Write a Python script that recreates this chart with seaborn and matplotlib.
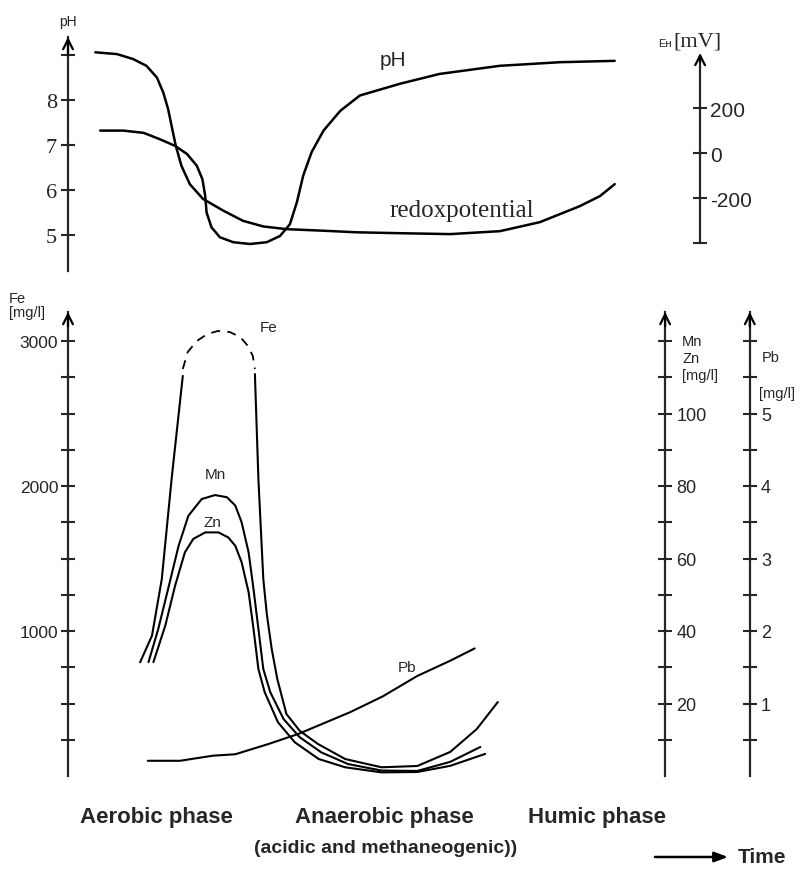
import numpy as np
import pandas as pd
import seaborn as sns
import matplotlib.pyplot as plt

# time in arbitrary units along the landfill life
ph_time = [4.6, 7.9, 10.8, 13.1, 15.3, 17.0, 18.4, 19.2, 19.6, 19.8, 20.5, 21.7, 23.6,
           26.0, 28.4, 30.3, 31.7, 32.7, 33.6, 34.8, 36.5, 38.9, 41.7, 47.4, 53.1,
           61.7, 70.3, 78.1]
ph_value = [7.32, 7.32, 7.27, 7.13, 6.98, 6.80, 6.54, 6.24, 5.87, 5.50, 5.17, 4.95, 4.84,
            4.80, 4.84, 4.98, 5.24, 5.73, 6.32, 6.84, 7.32, 7.76, 8.10, 8.36, 8.58,
            8.76, 8.84, 8.87]

redox_time = [3.9, 7.0, 9.3, 11.2, 12.7, 13.6, 14.3, 14.8, 15.4, 16.2, 17.4, 19.3, 22.2,
              25.0, 27.9, 31.2, 36.5, 41.2, 47.4, 54.6, 61.7, 67.4, 73.1, 76.0, 78.1]
redox_mv = [448, 440, 418, 388, 336, 270, 196, 121, 32, -56, -138, -204, -256,
            -301, -326, -338, -345, -352, -356, -360, -347, -307, -236, -191, -138]

# Fe [mg/l]: rising part, uncertain (dashed) peak, falling part
fe_rise_time = [10.3, 12.0, 13.4, 14.8, 16.4]
fe_rise = [784, 968, 1359, 2048, 2759]
fe_peak_time = [16.4, 17.1, 18.4, 19.9, 21.4, 23.1, 24.6, 25.7, 26.4, 26.7]
fe_peak = [2807, 2924, 3000, 3048, 3069, 3062, 3028, 2966, 2897, 2807]
fe_fall_time = [26.7, 27.2, 27.9, 28.4, 29.1, 29.9, 31.2, 33.1, 35.7, 39.6, 44.8,
                49.9, 54.6, 58.4, 61.4]
fe_fall = [2772, 2048, 1359, 1117, 876, 669, 428, 312, 221, 117, 60,
           69, 166, 324, 510]

# Mn, Zn [mg/l]
mn_time = [11.5, 12.9, 14.3, 15.8, 17.2, 19.1, 21.0, 22.7, 23.9, 24.8, 25.8, 26.5,
           27.2, 27.9, 28.9, 30.8, 33.1, 36.2, 40.0, 44.8, 49.9, 54.6, 58.9]
mn_value = [31.4, 40.6, 51.6, 63.5, 71.8, 76.4, 77.5, 76.9, 74.6, 70.0, 61.7, 51.6,
            40.6, 29.5, 23.1, 15.7, 10.7, 6.5, 3.3, 1.5, 1.4, 3.9, 8.0]
zn_time = [12.2, 13.9, 15.3, 16.7, 17.9, 19.6, 21.5, 22.9, 23.9, 24.8, 25.8, 26.5,
           27.2, 28.1, 30.0, 32.4, 35.8, 39.6, 44.8, 49.9, 54.6, 59.6]
zn_value = [31.4, 41.5, 52.5, 61.7, 65.4, 67.2, 67.2, 65.8, 63.5, 59.0, 50.7, 40.6,
            29.5, 23.1, 14.8, 9.3, 4.7, 2.4, 1.0, 1.1, 2.8, 6.1]

# Pb [mg/l]
pb_time = [11.4, 16.0, 20.7, 23.9, 28.6, 32.9, 40.3, 45.0, 49.9, 54.6, 58.1]
pb_value = [0.21, 0.21, 0.28, 0.30, 0.44, 0.58, 0.88, 1.10, 1.38, 1.59, 1.76]

ph_ticks = [5, 6, 7, 8, 9]
ph_ticklabels = ['5', '6', '7', '8', '']
eh_ticks = [-400, -200, 0, 200]
eh_ticklabels = ['', '-200', '0', '200']
fe_ticks = [250, 500, 750, 1000, 1250, 1500, 1750, 2000, 2250, 2500, 2750, 3000]
fe_ticklabels = ['', '', '', '1000', '', '', '', '2000', '', '', '', '3000']
mnzn_ticks = [10, 20, 30, 40, 50, 60, 70, 80, 90, 100, 110, 120]
mnzn_ticklabels = ['', '20', '', '40', '', '60', '', '80', '', '100', '', '']
pb_ticks = [0.5, 1, 1.5, 2, 2.5, 3, 3.5, 4, 4.5, 5, 5.5, 6]
pb_ticklabels = ['', '1', '', '2', '', '3', '', '4', '', '5', '', '']
phases = ['Aerobic phase', 'Anaerobic phase', '(acidic and methaneogenic))', 'Humic phase']

W, H = 805, 870


def fig_xy(x, y):
    return x / W, 1 - y / H


def axis_arrow(ax, x, ytop, length):
    ax.annotate('', xy=(x, ytop), xytext=(x, ytop - length),
                arrowprops=dict(arrowstyle='->,head_length=0.7,head_width=0.35',
                                lw=1.6, color='black', shrinkA=0, shrinkB=0),
                annotation_clip=False)


def line(ax, t, v, **kw):
    sns.lineplot(x=t, y=v, ax=ax, color='black', sort=False, estimator=None, **kw)


sns.set_style('white')
plt.rcParams['font.family'] = ['Liberation Sans', 'DejaVu Sans']

fig = plt.figure(figsize=(W / 100, H / 100), dpi=100)

# ---------- upper panel: pH and redox potential ----------
ax_ph = fig.add_axes([68 / W, 1 - 272 / H, 735 / W, 234 / H])
line(ax_ph, ph_time, ph_value, lw=1.8)
ax_ph.set_xlim(0, 105)
ax_ph.set_ylim(4.2, 9.4)

ax_eh = ax_ph.twinx()
line(ax_eh, redox_time, redox_mv, lw=1.8)
ax_eh.set_ylim(-524, 516)

for a in (ax_ph, ax_eh):
    a.set_xticks([])
    a.set_xlabel('')
    a.set_ylabel('')
    for s in ('top', 'bottom'):
        a.spines[s].set_visible(False)
ax_ph.spines['right'].set_visible(False)
ax_eh.spines['left'].set_visible(False)
ax_ph.spines['left'].set_linewidth(1.6)
ax_eh.spines['right'].set_linewidth(1.6)
ax_eh.spines['right'].set_position(('data', 90.3))
ax_eh.spines['right'].set_bounds(-400, 420)

ax_ph.set_yticks(ph_ticks, labels=ph_ticklabels)
ax_ph.tick_params(axis='y', direction='inout', length=10, width=1.5, labelsize=16,
                  pad=3, labelfontfamily='Liberation Serif')
ax_eh.set_yticks(eh_ticks, labels=eh_ticklabels)
ax_eh.tick_params(axis='y', direction='inout', length=10, width=1.5, labelsize=15, pad=2)

axis_arrow(ax_ph, 0, 9.4, 0.4)
axis_arrow(ax_eh, 90.3, 445, 40)

ax_ph.text(46.4, 8.91, 'pH', fontsize=15, ha='center', va='center')
ax_ph.text(56.3, 5.56, 'redoxpotential', fontsize=18, ha='center', va='center',
           family='Liberation Serif')
fig.text(*fig_xy(68, 22), 'pH', fontsize=10, ha='center', va='center')
fig.text(*fig_xy(672, 44), 'Eʜ', fontsize=8, ha='right', va='center')
fig.text(*fig_xy(673, 42), '[mV]', fontsize=16, ha='left', va='center',
         family='Liberation Serif')

# ---------- lower panel: metals ----------
ax_fe = fig.add_axes([68 / W, 1 - 777 / H, 735 / W, 464 / H])
line(ax_fe, fe_rise_time, fe_rise, lw=1.5)
line(ax_fe, fe_peak_time, fe_peak, lw=1.3, linestyle=(0, (5, 4)))
line(ax_fe, fe_fall_time, fe_fall, lw=1.5)
ax_fe.set_xlim(0, 105)
ax_fe.set_ylim(0, 3200)

ax_mz = ax_fe.twinx()
line(ax_mz, mn_time, mn_value, lw=1.5)
line(ax_mz, zn_time, zn_value, lw=1.5)
ax_mz.set_ylim(0, 128)

ax_pb = ax_fe.twinx()
line(ax_pb, pb_time, pb_value, lw=1.5)
ax_pb.set_ylim(0, 6.4)

for a in (ax_fe, ax_mz, ax_pb):
    a.set_xticks([])
    a.set_xlabel('')
    a.set_ylabel('')
    for s in ('top', 'bottom'):
        a.spines[s].set_visible(False)
ax_fe.spines['right'].set_visible(False)
ax_fe.spines['left'].set_linewidth(1.6)
for a, xpos in ((ax_mz, 85.3), (ax_pb, 97.4)):
    a.spines['left'].set_visible(False)
    a.spines['right'].set_position(('data', xpos))
    a.spines['right'].set_linewidth(1.6)

ax_fe.set_yticks(fe_ticks, labels=fe_ticklabels)
ax_mz.set_yticks(mnzn_ticks, labels=mnzn_ticklabels)
ax_pb.set_yticks(pb_ticks, labels=pb_ticklabels)
ax_fe.tick_params(axis='y', direction='inout', length=10, width=1.5, labelsize=12.5, pad=2)
ax_mz.tick_params(axis='y', direction='inout', length=10, width=1.5, labelsize=13, pad=3)
ax_pb.tick_params(axis='y', direction='inout', length=10, width=1.5, labelsize=13, pad=3)

axis_arrow(ax_fe, 0, 3200, 100)
axis_arrow(ax_mz, 85.3, 128, 4)
axis_arrow(ax_pb, 97.4, 6.4, 0.2)

ax_fe.text(27.4, 3097, 'Fe', fontsize=11, ha='left', va='center')
ax_fe.text(21.0, 2083, 'Mn', fontsize=11, ha='center', va='center')
ax_fe.text(20.6, 1752, 'Zn', fontsize=11, ha='center', va='center')
ax_fe.text(48.4, 752, 'Pb', fontsize=11, ha='center', va='center')

fig.text(*fig_xy(9, 306), 'Fe\n[mg/l]', fontsize=10.5, ha='left', va='center',
         linespacing=1.05)
fig.text(*fig_xy(682, 359), 'Mn\nZn\n[mg/l]', fontsize=10.5, ha='left', va='center',
         linespacing=1.25)
fig.text(*fig_xy(762, 358), 'Pb', fontsize=10.5, ha='left', va='center')
fig.text(*fig_xy(759, 394), '[mg/l]', fontsize=10.5, ha='left', va='center')

# ---------- phase captions ----------
fig.text(*fig_xy(156, 818), phases[0], fontsize=16, weight='bold', ha='center', va='center')
fig.text(*fig_xy(384, 818), phases[1], fontsize=16, weight='bold', ha='center', va='center')
fig.text(*fig_xy(386, 849), phases[2], fontsize=14, weight='bold', ha='center', va='center')
fig.text(*fig_xy(528, 818), phases[3], fontsize=16, weight='bold', ha='left', va='center')
fig.text(*fig_xy(738, 858), 'Time', fontsize=15, weight='bold', ha='left', va='center')
fig.add_artist(plt.Annotation('', xy=fig_xy(728, 858), xytext=fig_xy(655, 858),
                              xycoords='figure fraction', textcoords='figure fraction',
                              arrowprops=dict(arrowstyle='-|>,head_length=0.8,head_width=0.3',
                                              lw=1.8, color='black', shrinkA=0, shrinkB=0)))

fig.savefig('out.png', dpi=100)
